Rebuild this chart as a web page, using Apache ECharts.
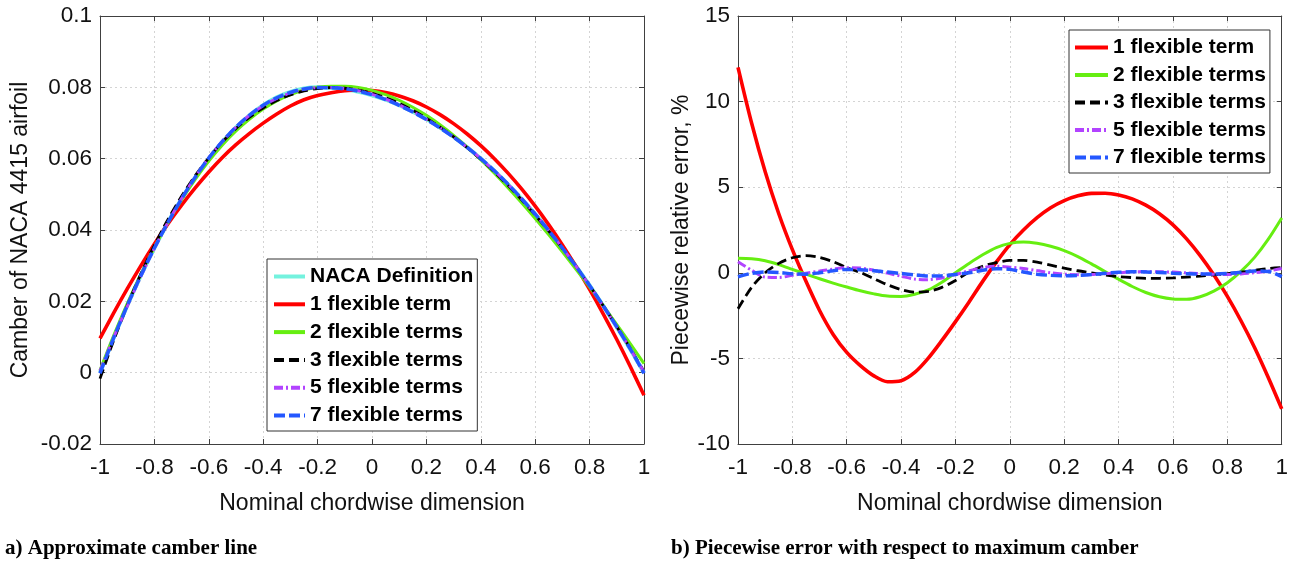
<!DOCTYPE html>
<html>
<head>
<meta charset="utf-8">
<script src="https://cdn.jsdelivr.net/npm/echarts@6/dist/echarts.min.js"></script>
<style>
  html, body { margin: 0; padding: 0; background: #ffffff; }
  #chart { width: 1291px; height: 563px; }
</style>
</head>
<body>
<div id="chart"></div>
<script>
// Nominal chordwise stations (-1 = leading edge, 1 = trailing edge), step 0.05
const chordX = [-1, -0.95, -0.9, -0.85, -0.8, -0.75, -0.7, -0.65, -0.6, -0.55, -0.5,
                -0.45, -0.4, -0.35, -0.3, -0.25, -0.2, -0.15, -0.1, -0.05, 0,
                0.05, 0.1, 0.15, 0.2, 0.25, 0.3, 0.35, 0.4, 0.45, 0.5,
                0.55, 0.6, 0.65, 0.7, 0.75, 0.8, 0.85, 0.9, 0.95, 1];

// Camber of the NACA 4415 mean line and of the flexible-term approximations
const nacaCamber = [0, 0.00969, 0.01875, 0.02719, 0.035, 0.04219, 0.04875, 0.05469, 0.06, 0.06469, 0.06875,
                    0.07219, 0.075, 0.07719, 0.07875, 0.07969, 0.08, 0.07986, 0.07944, 0.07875, 0.07778,
                    0.07653, 0.075, 0.07319, 0.07111, 0.06875, 0.06611, 0.06319, 0.06, 0.05653, 0.05278,
                    0.04875, 0.04444, 0.03986, 0.035, 0.02986, 0.02444, 0.01875, 0.01278, 0.00653, 0];
const camber1 = [0.0096, 0.01669, 0.02347, 0.02995, 0.03608, 0.04179, 0.04699, 0.05181, 0.05628, 0.06035, 0.06393,
                 0.0671, 0.06996, 0.07253, 0.07477, 0.07653, 0.07772, 0.0785, 0.07904, 0.07925, 0.0791,
                 0.07853, 0.07758, 0.07623, 0.07449, 0.07235, 0.06982, 0.06691, 0.06364, 0.05999, 0.05594,
                 0.05151, 0.04668, 0.04144, 0.0358, 0.02976, 0.02334, 0.01651, 0.00929, 0.00165, -0.00636];
const camber2 = [0.00068, 0.01035, 0.01931, 0.02757, 0.03516, 0.04213, 0.04847, 0.05421, 0.05934, 0.06385, 0.06777,
                 0.0711, 0.0739, 0.07619, 0.07795, 0.07925, 0.08, 0.0803, 0.08028, 0.07993, 0.07916,
                 0.07797, 0.07638, 0.07443, 0.07215, 0.06951, 0.06653, 0.06325, 0.0597, 0.05589, 0.05186,
                 0.04763, 0.04322, 0.03862, 0.03388, 0.029, 0.02398, 0.01881, 0.0135, 0.00809, 0.00256];
const camber3 = [-0.00168, 0.00901, 0.01875, 0.02763, 0.0357, 0.04299, 0.04947, 0.05521, 0.06024, 0.06471, 0.06847,
                 0.07163, 0.07422, 0.07629, 0.07789, 0.07901, 0.07964, 0.0799, 0.07974, 0.07923, 0.07836,
                 0.07711, 0.0755, 0.07355, 0.07133, 0.06885, 0.06611, 0.06309, 0.05982, 0.05631, 0.05252,
                 0.04849, 0.0442, 0.03966, 0.03485, 0.02976, 0.0244, 0.01878, 0.01289, 0.00673, 0.00024];
const camber5 = [0.00052, 0.00981, 0.01855, 0.02697, 0.03488, 0.04217, 0.04883, 0.05487, 0.06024, 0.06491, 0.06887,
                 0.07217, 0.07484, 0.07689, 0.07843, 0.07945, 0.07992, 0.07996, 0.07968, 0.07905, 0.07804,
                 0.07673, 0.0751, 0.07319, 0.07105, 0.06865, 0.06603, 0.06315, 0.06, 0.05657, 0.05284,
                 0.0488, 0.04447, 0.03986, 0.03496, 0.02979, 0.02436, 0.01869, 0.01278, 0.00661, 0.0002];
const camber7 = [-0.00018, 0.00967, 0.01879, 0.02721, 0.03495, 0.04213, 0.04875, 0.05479, 0.06016, 0.06483, 0.06885,
                 0.07222, 0.07497, 0.07709, 0.07861, 0.07955, 0.07992, 0.07986, 0.07956, 0.07894, 0.07794,
                 0.07657, 0.07494, 0.07307, 0.07097, 0.06863, 0.06603, 0.06317, 0.06002, 0.05658, 0.05282,
                 0.04877, 0.04442, 0.03982, 0.03494, 0.0298, 0.02441, 0.01877, 0.01286, 0.00659, -0.00018];

// Piecewise error, % of maximum camber
const error1 = [12.0, 8.75, 5.9, 3.45, 1.35, -0.5, -2.2, -3.6, -4.65, -5.42, -6.02,
                -6.36, -6.3, -5.82, -4.98, -3.95, -2.85, -1.7, -0.5, 0.62, 1.65,
                2.5, 3.22, 3.8, 4.22, 4.5, 4.64, 4.65, 4.55, 4.32, 3.95,
                3.45, 2.8, 1.98, 1.0, -0.12, -1.38, -2.8, -4.36, -6.1, -7.95];
const error2 = [0.85, 0.82, 0.7, 0.48, 0.2, -0.08, -0.35, -0.6, -0.83, -1.05, -1.23,
                -1.36, -1.38, -1.25, -1.0, -0.55, 0.0, 0.55, 1.05, 1.47, 1.72,
                1.8, 1.72, 1.55, 1.3, 0.95, 0.52, 0.07, -0.38, -0.8, -1.15,
                -1.4, -1.53, -1.55, -1.4, -1.07, -0.58, 0.08, 0.9, 1.95, 3.2];
const error3 = [-2.1, -0.85, 0.0, 0.55, 0.88, 1.0, 0.9, 0.65, 0.3, 0.02, -0.35,
                -0.7, -0.98, -1.13, -1.08, -0.85, -0.45, 0.05, 0.38, 0.6, 0.72,
                0.72, 0.62, 0.45, 0.27, 0.12, 0.0, -0.12, -0.22, -0.28, -0.32,
                -0.32, -0.3, -0.25, -0.19, -0.12, -0.05, 0.04, 0.14, 0.25, 0.3];
const error5 = [0.65, 0.15, -0.25, -0.27, -0.15, -0.02, 0.1, 0.22, 0.3, 0.28, 0.15,
                -0.02, -0.2, -0.37, -0.4, -0.3, -0.1, 0.12, 0.3, 0.38, 0.33,
                0.25, 0.13, 0.0, -0.08, -0.12, -0.1, -0.05, 0.0, 0.05, 0.07,
                0.06, 0.04, 0.0, -0.05, -0.09, -0.1, -0.07, 0.0, 0.1, 0.25];
const error7 = [-0.23, -0.03, 0.05, 0.02, -0.06, -0.08, 0.0, 0.12, 0.2, 0.18, 0.12,
                0.04, -0.04, -0.12, -0.18, -0.17, -0.1, 0.0, 0.15, 0.24, 0.2,
                0.05, -0.08, -0.15, -0.17, -0.15, -0.1, -0.03, 0.03, 0.06, 0.05,
                0.02, -0.02, -0.05, -0.07, -0.07, -0.04, 0.03, 0.1, 0.08, -0.22];

// Axis ranges [min, max, step]
const chordRange = [-1, 1, 0.2];
const camberRange = [-0.02, 0.1, 0.02];
const errorRange = [-10, 15, 5];

const names = ['NACA Definition', '1 flexible term', '2 flexible terms',
               '3 flexible terms', '5 flexible terms', '7 flexible terms'];

const lineLook = {
  'NACA Definition':  { color: '#74F2DE', width: 4,   type: 'solid' },
  '1 flexible term':  { color: '#FF0000', width: 3.6, type: 'solid' },
  '2 flexible terms': { color: '#66EE11', width: 3,   type: 'solid' },
  '3 flexible terms': { color: '#000000', width: 2.8, type: [10, 5] },
  '5 flexible terms': { color: '#B243FF', width: 3,   type: [9, 3, 2, 3] },
  '7 flexible terms': { color: '#2457FF', width: 3.5, type: [11, 4] }
};

const SANS = '"Liberation Sans", Arial, Helvetica, sans-serif';
const SERIF_BOLD = 'bold 21px "Liberation Serif", "Times New Roman", serif';
const AXIS_COLOR = '#404040';
const TEXT_COLOR = '#111111';
const GRID_LINE = { color: '#d4d4d4', type: [2, 3], width: 1 };

function pairs(values) {
  return chordX.map((x, i) => [x, values[i]]);
}

function makeSeries(name, values, gridIdx) {
  const look = lineLook[name];
  return {
    name: name,
    type: 'line',
    xAxisIndex: gridIdx,
    yAxisIndex: gridIdx,
    data: pairs(values),
    symbol: 'none',
    smooth: 0.3,
    clip: true,
    lineStyle: { color: look.color, width: look.width, type: look.type, cap: 'butt' },
    itemStyle: { color: look.color },
    emphasis: { disabled: true },
    z: 2
  };
}

function boxAxisLine() {
  return { show: true, onZero: false, lineStyle: { color: AXIS_COLOR, width: 1 } };
}
function innerTicks() {
  return { show: true, inside: true, length: 5, lineStyle: { color: AXIS_COLOR } };
}

function mainX(gridIdx) {
  return {
    gridIndex: gridIdx, type: 'value', position: 'bottom',
    min: chordRange[0], max: chordRange[1], interval: chordRange[2],
    axisLine: boxAxisLine(), axisTick: innerTicks(),
    axisLabel: { margin: 12, fontSize: 22.5, color: TEXT_COLOR, fontFamily: SANS },
    splitLine: { show: true, lineStyle: GRID_LINE },
    name: 'Nominal chordwise dimension', nameLocation: 'middle', nameGap: 48,
    nameTextStyle: { fontSize: 23, color: TEXT_COLOR, fontFamily: SANS }
  };
}
function topX(gridIdx) {
  return {
    gridIndex: gridIdx, type: 'value', position: 'top',
    min: chordRange[0], max: chordRange[1], interval: chordRange[2],
    axisLine: boxAxisLine(), axisTick: innerTicks(),
    axisLabel: { show: false }, splitLine: { show: false }
  };
}
function mainY(gridIdx, range, title, gap) {
  return {
    gridIndex: gridIdx, type: 'value', position: 'left',
    min: range[0], max: range[1], interval: range[2],
    axisLine: boxAxisLine(), axisTick: innerTicks(),
    axisLabel: { margin: 8, fontSize: 22.5, color: TEXT_COLOR, fontFamily: SANS },
    splitLine: { show: true, lineStyle: GRID_LINE },
    name: title, nameLocation: 'middle', nameGap: gap,
    nameTextStyle: { fontSize: 23, color: TEXT_COLOR, fontFamily: SANS }
  };
}
function rightY(gridIdx, range) {
  return {
    gridIndex: gridIdx, type: 'value', position: 'right',
    min: range[0], max: range[1], interval: range[2],
    axisLine: boxAxisLine(), axisTick: innerTicks(),
    axisLabel: { show: false }, splitLine: { show: false }
  };
}

function legendBox(pos, list, width, gap, pad) {
  return Object.assign({
    orient: 'vertical',
    data: list,
    selectedMode: false,
    itemWidth: width,
    itemHeight: 14,
    itemGap: gap,
    padding: pad,
    backgroundColor: '#ffffff',
    borderColor: '#333333',
    borderWidth: 1,
    borderRadius: 0,
    // line-only key: the marker dot is made invisible
    itemStyle: { color: 'rgba(0,0,0,0)', borderColor: 'rgba(0,0,0,0)', borderWidth: 0 },
    lineStyle: { width: 4 },
    textStyle: { fontSize: 21, fontWeight: 'bold', color: '#000000', fontFamily: SANS, lineHeight: 21 },
    z: 10
  }, pos);
}

const camberSets = [nacaCamber, camber1, camber2, camber3, camber5, camber7];
const errorSets = [error1, error2, error3, error5, error7];

const option = {
  animation: false,
  backgroundColor: '#ffffff',
  grid: [
    { left: 100, right: 647, top: 16, bottom: 119 },
    { left: 738, right: 8, top: 16, bottom: 119 }
  ],
  xAxis: [mainX(0), mainX(1), topX(0), topX(1)],
  yAxis: [
    mainY(0, camberRange, 'Camber of NACA 4415 airfoil', 68),
    mainY(1, errorRange, 'Piecewise relative error, %', 44),
    rightY(0, camberRange),
    rightY(1, errorRange)
  ],
  legend: [
    legendBox({ left: 267, top: 259 }, names, 31, 6.8, [7, 4, 5, 5]),
    legendBox({ left: 1069, top: 30 }, names.slice(1), 33, 6.5, [7, 4, 5, 4])
  ],
  series: [
    ...names.map((n, i) => makeSeries(n, camberSets[i], 0)),
    ...names.slice(1).map((n, i) => makeSeries(n, errorSets[i], 1))
  ],
  graphic: [
    { type: 'text', left: 5, top: 538,
      style: { text: 'a) Approximate camber line', font: SERIF_BOLD, fill: '#000' } },
    { type: 'text', left: 671, top: 538,
      style: { text: 'b) Piecewise error with respect to maximum camber', font: SERIF_BOLD, fill: '#000' } }
  ]
};

const chart = echarts.init(document.getElementById('chart'), null, { renderer: 'canvas' });
chart.setOption(option);
</script>
</body>
</html>
